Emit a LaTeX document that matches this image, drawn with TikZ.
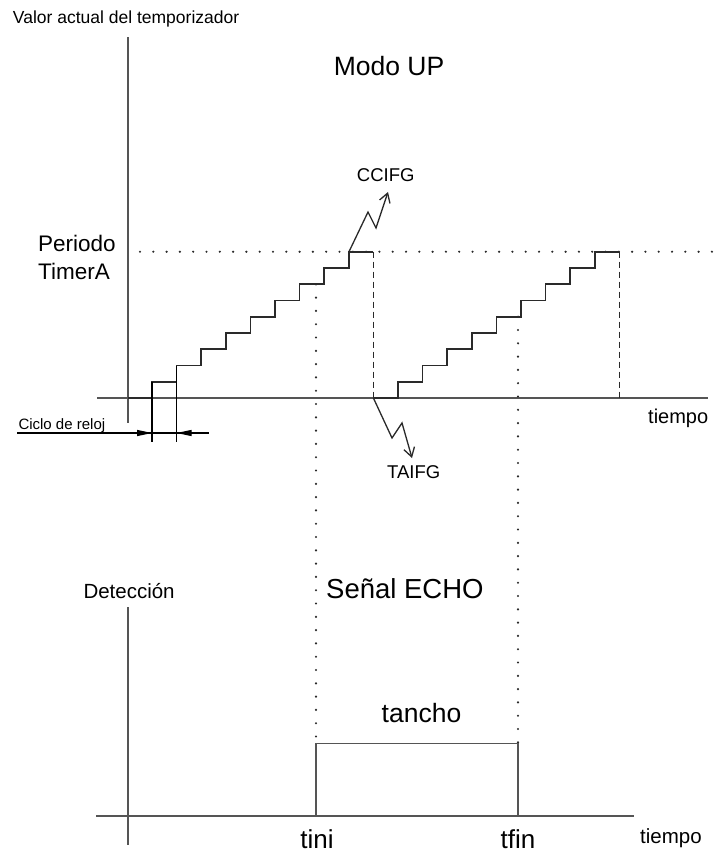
\documentclass[tikz,border=0pt]{standalone}
\usepackage{fontspec}
\setmainfont{Liberation Sans}
\usetikzlibrary{arrows.meta}
\definecolor{axisgray}{HTML}{555555}
\definecolor{inkgray}{HTML}{2A2A2A}
\begin{document}
\begin{tikzpicture}[x=1pt,y=-1pt,
  axis/.style={draw=axisgray,line width=1.5pt},
  stair/.style={draw=inkgray,line width=1.6pt},
  guide/.style={draw=inkgray,line width=2.4pt,line cap=round,dash pattern=on 0pt off 13.3pt},
  edgeline/.style={draw=inkgray,line width=1.7pt,dash pattern=on 6pt off 4pt},
  lbl/.style={inner sep=0pt,anchor=base west,text=black},
  flag/.style={draw=inkgray,line width=1.3pt,-{Straight Barb[length=9pt,width=11pt,line width=1.3pt]}},
  cycmark/.style={draw=black,line width=1.2pt},
  cyctip/.style={draw=black,line width=1.2pt,-{Triangle[length=15pt,width=6pt]}}
]
\useasboundingbox (0,0) rectangle (713,854);

% ---------- upper chart: timer counting in UP mode ----------
\coordinate (vtop) at (128,37);
\coordinate (vbot) at (128,423);
\coordinate (hleft) at (97,398);
\coordinate (hright) at (708,398);
\draw[axis] (vtop) -- (vbot);
\draw[axis] (hleft) -- (hright);

% period level
\coordinate (pl) at (140,251.7);
\coordinate (pr) at (712,251.7);
\draw[guide] (pl) -- (pr);

% first counting ramp
\draw[stair] (128,398) -- (152,398)
  \foreach \i in {0,...,8} { -- ({152+24.6*\i},{381.7-16.25*\i}) -- ({152+24.6*(\i+1)},{381.7-16.25*\i}) };
\coordinate (top1) at (373.4,251.7);
\coordinate (zero1) at (373.4,398);
\draw[edgeline] (top1) -- (zero1);

% second counting ramp
\draw[stair] (zero1) -- (398,398)
  \foreach \i in {0,...,8} { -- ({398+24.6*\i},{381.7-16.25*\i}) -- ({398+24.6*(\i+1)},{381.7-16.25*\i}) };
\coordinate (top2) at (619.4,251.7);
\coordinate (zero2) at (619.4,398);
\draw[edgeline] (top2) -- (zero2);

% one clock cycle
\coordinate (ck1t) at (152,381.7);
\coordinate (ck1b) at (152,442);
\coordinate (ck2t) at (176.6,366);
\coordinate (ck2b) at (176.6,442);
\draw[cycmark] (ck1t) -- (ck1b);
\draw[cycmark] (ck2t) -- (ck2b);
\coordinate (c0) at (17,433);
\coordinate (ca) at (152,433);
\coordinate (cb) at (176.6,433);
\coordinate (c1) at (209,433);
\coordinate (cah) at (137,433);
\coordinate (cbh) at (192,433);
\draw[cycmark] (c0) -- (c1);
\draw[cyctip] (cah) -- (ca);
\draw[cyctip] (cbh) -- (cb);

% interrupt flags
\coordinate (cc0) at (349,251.7);
\coordinate (cc1) at (368,212);
\coordinate (cc2) at (376,228);
\coordinate (cc3) at (388,192);
\draw[flag] (cc0) -- (cc1) -- (cc2) -- (cc3);
\coordinate (ta1) at (392,438);
\coordinate (ta2) at (402,423);
\coordinate (ta3) at (412,458);
\draw[flag] (zero1) -- (ta1) -- (ta2) -- (ta3);

% capture instants carried down to the echo pulse
\coordinate (ini) at (316,284.3);
\coordinate (fin) at (518,316.7);
\coordinate (pa) at (316,743.3);
\coordinate (pb) at (518,743.3);
\draw[guide] (ini) -- (pa);
\draw[guide] (fin) -- (pb);

% ---------- lower chart: ECHO pulse ----------
\coordinate (dtop) at (128,607);
\coordinate (dbot) at (128,845);
\coordinate (bl) at (96,816);
\coordinate (br) at (634,816);
\draw[axis] (dtop) -- (dbot);
\draw[axis] (bl) -- (br);
\coordinate (p0) at (316,816);
\coordinate (p1) at (518,816);
\draw[axis] (p0) -- (pa) -- (pb) -- (p1);

% ---------- labels ----------
\node[lbl,font=\fontsize{17.5}{20}\selectfont] (yname) at (12.7,23) {Valor actual del temporizador};
\node[lbl,font=\fontsize{26.5}{30}\selectfont,anchor=base] (modo) at (389,75.7) {Modo UP};
\node[lbl,font=\fontsize{18.5}{22}\selectfont] (ccifg) at (356.7,181.7) {CCIFG};
\node[lbl,font=\fontsize{22.5}{26}\selectfont] (per1) at (38,251.7) {Periodo};
\node[lbl,font=\fontsize{22.5}{26}\selectfont] (per2) at (38,279) {TimerA};
\node[lbl,font=\fontsize{20}{24}\selectfont] (t1) at (648,423) {tiempo};
\node[lbl,font=\fontsize{15}{18}\selectfont] (ciclo) at (18.3,429) {Ciclo de reloj};
\node[lbl,font=\fontsize{18.5}{22}\selectfont] (taifg) at (387,478) {TAIFG};
\node[lbl,font=\fontsize{20.5}{24}\selectfont] (det) at (83.3,598) {Detección};
\node[lbl,font=\fontsize{27.5}{32}\selectfont] (echo) at (326,598) {Señal ECHO};
\node[lbl,font=\fontsize{26.5}{30}\selectfont,anchor=base] (ancho) at (421.5,722) {tancho};
\node[lbl,font=\fontsize{26}{30}\selectfont,anchor=base] (tini) at (317,848) {tini};
\node[lbl,font=\fontsize{26}{30}\selectfont,anchor=base] (tfin) at (518,848) {tfin};
\node[lbl,font=\fontsize{20.5}{24}\selectfont] (t2) at (640,843) {tiempo};
\end{tikzpicture}
\end{document}
